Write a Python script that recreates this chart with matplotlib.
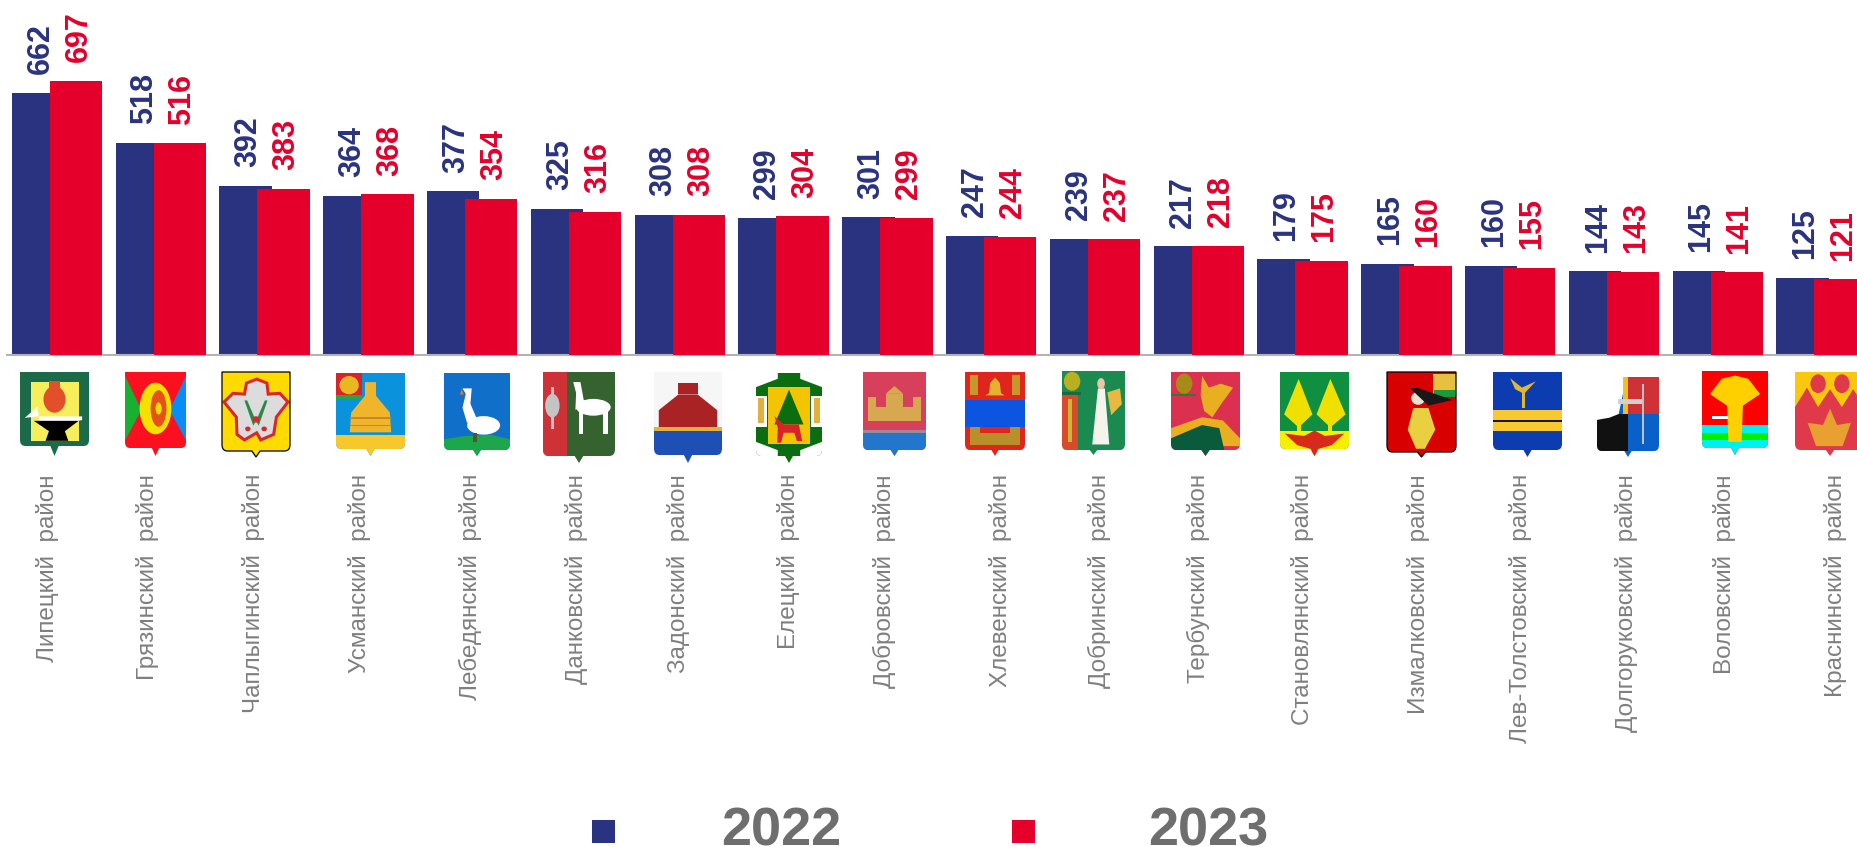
import matplotlib
matplotlib.use('Agg')
import matplotlib.pyplot as plt
from matplotlib.patches import PathPatch, Polygon, Ellipse, Rectangle
from matplotlib.path import Path
from matplotlib.transforms import Affine2D

plt.rcParams['font.family'] = ['Liberation Sans', 'DejaVu Sans']

districts = ['Липецкий  район', 'Грязинский  район', 'Чаплыгинский  район', 'Усманский  район',
             'Лебедянский  район', 'Данковский  район', 'Задонский  район', 'Елецкий  район',
             'Добровский  район', 'Хлевенский  район', 'Добринский  район', 'Тербунский  район',
             'Становлянский  район', 'Измалковский  район', 'Лев-Толстовский  район',
             'Долгоруковский  район', 'Воловский  район', 'Краснинский  район']
values_2022 = [662, 518, 392, 364, 377, 325, 308, 299, 301, 247, 239, 217, 179, 165, 160, 144, 145, 125]
values_2023 = [697, 516, 383, 368, 354, 316, 308, 304, 299, 244, 237, 218, 175, 160, 155, 143, 141, 121]

BLUE = '#29337f'
RED = '#e4002b'
GREY = '#7f7f7f'
W, H = 1858, 847
Y_START = -99  # the value axis does not start at zero in the original

# layout in reference pixels
LABEL_X = [48, 148, 254, 360, 470, 577, 679, 789, 884, 1001, 1099, 1198, 1303, 1419, 1521, 1627, 1725, 1836]
EMBLEM_BOX = [(20, 89, 372, 446, 10), (125, 186, 372, 448, 8), (222, 290, 372, 451, 6),
              (336, 405, 373, 449, 7), (444, 510, 373, 450, 6), (543, 615, 372, 456, 7),
              (654, 722, 372, 455, 8), (756, 822, 373, 456, 7), (863, 926, 372, 450, 6),
              (965, 1025, 372, 450, 6), (1062, 1125, 371, 450, 5), (1171, 1240, 372, 450, 6),
              (1280, 1349, 372, 449, 7), (1387, 1456, 372, 452, 5), (1493, 1562, 372, 450, 7),
              (1597, 1659, 377, 451, 6), (1702, 1768, 371, 448, 7), (1795, 1865, 372, 450, 6)]
EMBLEM_EDGE = {2: 'black', 13: 'black'}

# emblem contents in shield units: r = rectangle, e = ellipse, p = polygon, s = outlined polygon
EMBLEMS = [
    ('#1b6b4b', [('r', '#f7ee5c', .16, .14, .85, .93), ('e', '#e2502a', .5, .37, .16, .18),
                 ('r', '#e2502a', .42, .12, .58, .25), ('p', 'white', [(.07, .62), (.25, .47), (.3, .75), (.9, .65), (.9, .6), (.25, .6)]),
                 ('p', 'black', [(.2, .66), (.85, .66), (.65, .8), (.7, .93), (.37, .93), (.42, .8)])]),
    ('#fb1020', [('p', '#18b030', [(0, .05), (.27, .5), (0, .9)]), ('p', '#0a8cf5', [(1, .05), (.73, .5), (1, .9)]),
                 ('e', '#f5e000', .5, .48, .26, .34), ('e', '#e8501a', .55, .48, .13, .24), ('e', '#f5e000', .55, .48, .05, .08)]),
    ('#ffdb00', [('s', '#dcdcdc', [(.51, .09), (.66, .14), (.68, .28), (.85, .27), (.97, .38), (.8, .57), (.76, .79), (.57, .86),
                                   (.51, .77), (.33, .86), (.22, .79), (.21, .57), (.03, .38), (.16, .27), (.33, .28), (.36, .14)]),
                 ('p', '#2a8a45', [(.33, .36), (.37, .36), (.5, .62), (.46, .68)]), ('p', '#2a8a45', [(.67, .36), (.63, .36), (.5, .62), (.54, .68)]),
                 ('e', '#d8262c', .5, .6, .05, .04), ('e', '#d8262c', .38, .72, .04, .03), ('e', '#d8262c', .62, .72, .04, .03)]),
    ('#0a93dc', [('r', '#d8232a', 0, 0, .38, .29), ('r', '#1fa84a', 0, .29, .38, .34), ('e', '#e8b820', .19, .16, .14, .12),
                 ('p', '#f0b52a', [(.42, .12), (.58, .12), (.58, .3), (.78, .52), (.8, .78), (.2, .78), (.22, .52), (.42, .3)]),
                 ('r', '#f6c82b', 0, .81, 1, 1.3), ('r', '#c8862a', .2, .58, .8, .6), ('r', '#c8862a', .2, .68, .8, .7)]),
    ('#0f6fc9', [('p', '#1ca84a', [(0, .86), (.3, .82), (.7, .8), (1, .86), (1, 1.3), (0, 1.3)]),
                 ('e', 'white', .6, .68, .25, .12), ('p', 'white', [(.28, .2), (.42, .2), (.4, .4), (.5, .6), (.35, .65), (.28, .45), (.33, .27)]),
                 ('p', '#e8742a', [(.27, .21), (.3, .28), (.24, .28)]), ('r', '#4a5a2a', .44, .78, .5, .9)]),
    ('#35632f', [('r', '#cf3236', 0, 0, .33, 1), ('e', '#c4c4c4', .13, .4, .1, .14), ('r', '#c4c4c4', .11, .18, .15, .68),
                 ('e', 'white', .7, .42, .24, .1), ('p', 'white', [(.42, .12), (.52, .12), (.58, .4), (.45, .45), (.46, .25)]),
                 ('r', 'white', .5, .42, .55, .74), ('r', 'white', .84, .42, .9, .74)]),
    ('#f6f6f6', [('r', '#a92325', .36, .13, .64, .27), ('p', '#a92325', [(.36, .27), (.64, .27), (.93, .46), (.93, .68), (.07, .68), (.07, .46)]),
                 ('r', '#e0b040', 0, .66, 1, .71), ('r', '#1d4fb5', 0, .71, 1, 1.3)]),
    ('#0a6e10', [('p', 'white', [(0, 0), (.33, 0), (.33, .07), (0, .17)]), ('p', 'white', [(1, 0), (.67, 0), (.67, .07), (1, .17)]),
                 ('p', 'white', [(0, 1), (.33, 1), (.33, .93), (0, .83)]), ('p', 'white', [(1, 1), (.67, 1), (.67, .93), (1, .83)]),
                 ('r', 'white', .0, .28, .17, .65), ('r', 'white', .83, .28, 1, .65),
                 ('r', '#f2c500', .18, .17, .82, .85), ('p', '#0a6e10', [(.5, .2), (.72, .62), (.28, .62)]),
                 ('p', '#d8232a', [(.28, .52), (.42, .62), (.65, .62), (.7, .82), (.62, .82), (.58, .72), (.42, .72), (.38, .84), (.32, .84), (.33, .66)]),
                 ('r', '#e0b040', .03, .3, .12, .6), ('r', '#e0b040', .88, .3, .97, .6)]),
    ('#d6405a', [('r', '#d8a850', .08, .45, .92, .63), ('r', '#d8a850', .37, .28, .63, .63), ('p', '#d8a850', [(.5, .18), (.64, .28), (.36, .28)]),
                 ('r', '#d8a850', .08, .32, .2, .63), ('r', '#d8a850', .8, .32, .92, .63),
                 ('r', '#2277cc', 0, .77, 1, 1.3), ('r', '#9a8a9a', 0, .74, 1, .78)]),
    ('#e0261c', [('r', '#c8962a', .08, .04, .22, .3), ('r', '#c8962a', .78, .04, .92, .3), ('p', '#e8b030', [(.5, .07), (.58, .14), (.6, .27), (.66, .3), (.34, .3), (.4, .27), (.42, .14)]),
                 ('r', '#0c55e0', 0, .36, 1, .71), ('r', '#b8902a', .08, .71, .92, .94), ('r', '#e0261c', .25, .71, .75, .78)]),
    ('#1a8a50', [('r', '#d94a2a', 0, .28, .25, 1), ('e', '#b8b020', .16, .13, .13, .12), ('r', '#1a6a3a', 0, .26, .3, .31),
                 ('r', '#c8b838', .1, .36, .16, .9), ('p', '#f4f4ec', [(.57, .22), (.68, .22), (.75, .93), (.48, .93)]), ('e', '#e8c8a8', .62, .16, .06, .07),
                 ('p', '#e8b840', [(.72, .27), (.92, .22), (.95, .42), (.78, .56)])]),
    ('#dc3050', [('e', '#a88a18', .19, .15, .12, .13), ('r', '#2a7a3a', 0, .28, .36, .31),
                 ('p', '#e8b020', [(.45, .05), (.55, .2), (.72, .15), (.9, .2), (.72, .42), (.6, .58), (.48, .5), (.43, .3)]),
                 ('p', '#e8b020', [(0, .72), (.45, .58), (.75, .62), (1, .85), (1, .95), (0, .95)]),
                 ('p', '#0a5a3c', [(0, .85), (.45, .68), (.7, .72), (.85, 1.3), (0, 1.3)])]),
    ('#0f9040', [('r', '#f5f000', 0, .76, 1, 1.3), ('p', '#f0e000', [(.27, .09), (.47, .55), (.27, .72), (.06, .55)]), ('p', '#f0e000', [(.73, .09), (.95, .55), (.73, .72), (.53, .55)]),
                 ('r', '#f0e000', .24, .6, .3, .76), ('r', '#f0e000', .7, .6, .76, .76),
                 ('p', '#d82a1a', [(.07, .8), (.35, .83), (.5, .76), (.65, .83), (.93, .8), (.75, .95), (.55, 1), (.5, 1.2), (.45, 1), (.25, .95)])]),
    ('#d80000', [('r', '#e4c040', .66, .03, 1, .3), ('e', '#e8c040', .83, .15, .12, .1), ('r', '#1a9a3a', .68, .23, .98, .31),
                 ('p', '#e8d040', [(.38, .45), (.6, .45), (.7, .72), (.55, .96), (.42, .96), (.3, .72)]),
                 ('e', '#e8e0d0', .45, .33, .1, .08), ('p', '#181818', [(.33, .2), (.45, .2), (.95, .35), (.6, .42)])]),
    ('#0d3cb0', [('r', '#f8c830', 0, .49, 1, .76), ('r', '#181818', 0, .62, 1, .64), ('r', '#e0b830', .42, .2, .47, .46),
                 ('p', '#e0b830', [(.25, .08), (.42, .2), (.62, .12), (.45, .28), (.32, .22)])]),
    ('#0860c8', [('r', '#cf3236', .5, 0, 1, .5), ('r', '#f0c020', .42, 0, .5, .5), ('r', '#111111', 0, .5, .5, 1),
                 ('p', 'white', [(0, 0), (.42, 0), (.42, .22), (.35, .5), (.2, .55), (0, .58)]), ('r', '#d0d0d0', .34, .3, .72, .36), ('r', '#c0c0c0', .72, .1, .76, .9)]),
    ('#ff0000', [('r', '#00f0f0', 0, .7, 1, 1.3), ('r', '#00f000', 0, .8, 1, .9),
                 ('p', '#ffd000', [(.12, .3), (.3, .1), (.5, .06), (.7, .1), (.88, .3), (.62, .45), (.6, .92), (.4, .92), (.38, .45)]),
                 ('r', 'white', .15, .58, .4, .62)]),
    ('#e03a4a', [('p', '#f9c80c', [(0, 0), (1, 0), (1, .45), (.83, .22), (.67, .45), (.5, .22), (.33, .45), (.17, .2), (0, .45)]),
                 ('e', '#e03a4a', .33, .15, .11, .12), ('e', '#e03a4a', .67, .15, .11, .12),
                 ('p', '#e8a030', [(.5, .47), (.6, .68), (.8, .65), (.68, .95), (.3, .95), (.18, .65), (.4, .68)])]),
]


def shield_path(tip):
    verts = [(0, 0), (1, 0), (1, .92), (1, 1), (.92, 1), (.56, 1), (.5, 1 + tip), (.44, 1), (.08, 1), (0, 1), (0, .92), (0, 0)]
    codes = [Path.MOVETO, Path.LINETO, Path.LINETO, Path.CURVE3, Path.CURVE3, Path.LINETO, Path.LINETO,
             Path.LINETO, Path.LINETO, Path.CURVE3, Path.CURVE3, Path.CLOSEPOLY]
    return Path(verts, codes)


def draw_emblem(ax, box, base, parts, edge=None):
    x0, x1, y0, y1, tip = box
    tr = Affine2D().scale(x1 - x0, y1 - y0).translate(x0, y0) + ax.transData
    path = shield_path(tip / (y1 - y0))
    shield = PathPatch(path, fc=base, ec='none', transform=tr)
    ax.add_patch(shield)
    for part in parts:
        kind, color = part[:2]
        if kind == 'r':
            p = Rectangle((part[2], part[3]), part[4] - part[2], part[5] - part[3], fc=color, ec='none')
        elif kind == 'e':
            p = Ellipse((part[2], part[3]), part[4] * 2, part[5] * 2, fc=color, ec='none')
        elif kind == 's':
            p = Polygon(part[2], closed=True, fc=color, ec='#d8262c', lw=2.2)
        else:
            p = Polygon(part[2], closed=True, fc=color, ec='none')
        p.set_transform(tr)
        ax.add_patch(p)
        p.set_clip_path(shield)
    if edge:
        ax.add_patch(PathPatch(path, fc='none', ec=edge, lw=0.9, transform=tr))


fig = plt.figure(figsize=(W / 100, H / 100), dpi=100)

PITCH = 103.8
BASE_Y = 355
ax = fig.add_axes([0, 1 - BASE_Y / H, 1, BASE_Y / H])
xs = list(range(len(districts)))
ax.bar([x - 0.183 for x in xs], [v - Y_START for v in values_2022], width=0.505, bottom=Y_START, color=BLUE, zorder=2)
ax.bar([x + 0.183 for x in xs], [v - Y_START for v in values_2023], width=0.505, bottom=Y_START, color=RED, zorder=3)
ax.set_xlim(-57 / PITCH, (W - 57) / PITCH)
ax.set_ylim(Y_START, Y_START + BASE_Y / 0.344)

for x, a, b in zip(xs, values_2022, values_2023):
    ax.annotate(str(a), (x - 0.183, a), xytext=(2, 13.5), textcoords='offset points', rotation=90,
                ha='center', va='bottom', fontsize=22, fontweight='bold', color=BLUE)
    ax.annotate(str(b), (x + 0.183, b), xytext=(2, 13.5), textcoords='offset points', rotation=90,
                ha='center', va='bottom', fontsize=22, fontweight='bold', color=RED, annotation_clip=False)

for side in ['top', 'left', 'right']:
    ax.spines[side].set_visible(False)
ax.spines['bottom'].set_color('#b3b3b3')
ax.spines['bottom'].set_linewidth(1.5)
ax.spines['bottom'].set_bounds(-50 / PITCH, (W - 57) / PITCH)
ax.set_yticks([])
ax.set_xticks([])

# overlay in pixel coordinates for emblems, names and the legend
top = fig.add_axes([0, 0, 1, 1])
top.set_xlim(0, W)
top.set_ylim(H, 0)
top.axis('off')
top.patch.set_alpha(0)

for i, (box, (base, parts)) in enumerate(zip(EMBLEM_BOX, EMBLEMS)):
    draw_emblem(top, box, base, parts, EMBLEM_EDGE.get(i))

for name, lx in zip(districts, LABEL_X):
    top.text(lx, 474, name, rotation=90, ha='center', va='top', fontsize=17.5, color=GREY)

top.add_patch(Rectangle((592, 820), 23, 23, fc=BLUE, ec='none'))
top.add_patch(Rectangle((1012, 820), 23, 23, fc=RED, ec='none'))
top.text(781, 846, '2022', ha='center', va='baseline', fontsize=39, fontweight='bold', color='#6e6e6e')
top.text(1208, 846, '2023', ha='center', va='baseline', fontsize=39, fontweight='bold', color='#6e6e6e')

fig.savefig('out.png', dpi=100)
